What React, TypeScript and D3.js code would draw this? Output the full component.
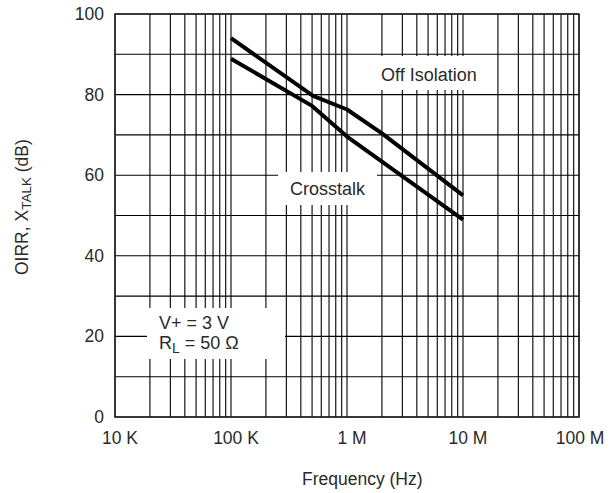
import React from "react";
import * as d3 from "d3";

const offFreq = [1e5, 5.1e5, 1e6, 2e6, 1e7];
const offVals = [94, 79.7, 76.3, 70.4, 55];
const crossFreq = [1e5, 5e5, 1e6, 1e7];
const crossVals = [88.9, 77.2, 69.6, 49];

const xTicks = [1e4, 1e5, 1e6, 1e7, 1e8];
const xTickLabels = ["10 K", "100 K", "1 M", "10 M", "100 M"];
const yTicks = [0, 20, 40, 60, 80, 100];

const W = 616;
const H = 493;
const L = 115, R = 579, T = 14, B = 417;
const FONT = "'Liberation Sans', Arial, sans-serif";
const TXT = "#2a2a2a";

export default function App() {
  const x = d3.scaleLog().domain([1e4, 1e8]).range([L, R]);
  const y = d3.scaleLinear().domain([0, 100]).range([B, T]);

  const vGrid: number[] = [];
  for (let e = 4; e < 8; e++) for (let k = 1; k <= 9; k++) vGrid.push(k * Math.pow(10, e));
  vGrid.push(1e8);
  const hGrid = d3.range(0, 101, 10);

  const line = d3
    .line<[number, number]>()
    .x((d) => x(d[0]))
    .y((d) => y(d[1]));

  const offPts = offFreq.map((f, i) => [f, offVals[i]] as [number, number]);
  const crossPts = crossFreq.map((f, i) => [f, crossVals[i]] as [number, number]);

  return (
    <svg width={W} height={H} style={{ position: "absolute", left: 0, top: 0, background: "#fff" }} fontFamily={FONT}>
      <rect x={0} y={0} width={W} height={H} fill="#fff" />
      {vGrid.map((f, i) => (
        <line key={"v" + i} x1={x(f)} x2={x(f)} y1={T} y2={B} stroke="#000" strokeWidth={1.1} />
      ))}
      {hGrid.map((v, i) => (
        <line key={"h" + i} x1={L} x2={R} y1={y(v)} y2={y(v)} stroke="#000" strokeWidth={1.1} />
      ))}
      <rect x={L} y={T} width={R - L} height={B - T} fill="none" stroke="#222" strokeWidth={1.5} />

      {/* label boxes */}
      <rect x={372} y={56} width={108} height={34} fill="#fff" />
      <rect x={278} y={172} width={99} height={33} fill="#fff" />
      <rect x={147} y={308} width={138} height={51} fill="#fff" />

      <path d={line(offPts) || ""} fill="none" stroke="#000" strokeWidth={4} strokeLinejoin="round" />
      <path d={line(crossPts) || ""} fill="none" stroke="#000" strokeWidth={4} strokeLinejoin="round" />

      <g fill={TXT} fontSize={18}>
        <text x={381} y={80.5}>Off Isolation</text>
        <text x={290} y={195}>Crosstalk</text>
        <text x={159} y={328.5}>V+ = 3 V</text>
        <text x={159} y={348.5}>
          R<tspan fontSize={14} dy={4}>L</tspan>
          <tspan dy={-4}> = 50 Ω</tspan>
        </text>
      </g>
      <g fill={TXT} fontSize={17.5}>
        {yTicks.map((v) => (
          <text key={"yt" + v} x={104} y={y(v) + 6} textAnchor="end">{v}</text>
        ))}
        {xTicks.map((f, i) => (
          <text key={"xt" + i} x={Math.min(x(f) + 5, 580)} y={444} textAnchor="middle">{xTickLabels[i]}</text>
        ))}
        <text x={302} y={485}>Frequency (Hz)</text>
        <text transform={`translate(28,275) rotate(-90)`}>
          OIRR, X<tspan fontSize={13.5} dy={3}>TALK</tspan>
          <tspan dy={-3}> (dB)</tspan>
        </text>
      </g>
    </svg>
  );
}
